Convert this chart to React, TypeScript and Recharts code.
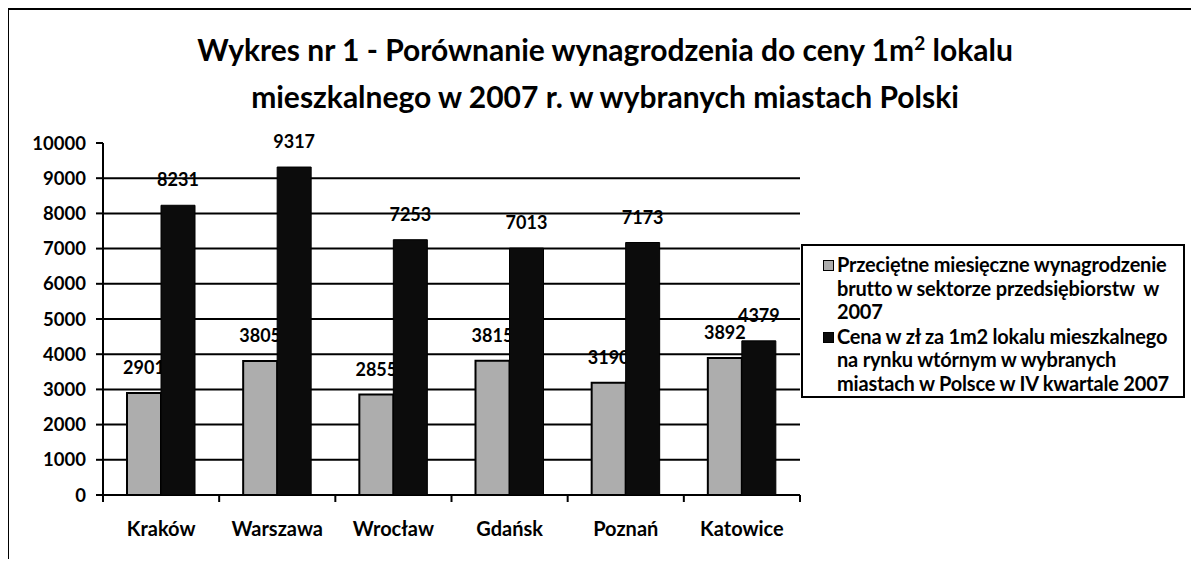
import { BarChart, Bar, XAxis, YAxis, CartesianGrid, LabelList } from "recharts";

const CITIES = ["Kraków", "Warszawa", "Wrocław", "Gdańsk", "Poznań", "Katowice"];
const SALARY = [2901, 3805, 2855, 3815, 3190, 3892];
const PRICE = [8231, 9317, 7253, 7013, 7173, 4379];
const Y_TICKS = [0, 1000, 2000, 3000, 4000, 5000, 6000, 7000, 8000, 9000, 10000];
const GRID_VALUES = [1000, 2000, 3000, 4000, 5000, 6000, 7000, 8000, 9000];
const SERIES_NAMES = [
  "Przeciętne miesięczne wynagrodzenie\nbrutto w sektorze przedsiębiorstw  w\n2007",
  "Cena w zł za 1m2 lokalu mieszkalnego\nna rynku wtórnym w wybranych\nmiastach w Polsce w IV kwartale 2007",
];

const rows = CITIES.map((city, i) => ({ city, salary: SALARY[i], price: PRICE[i] }));

const FONT = "Lato, 'Open Sans', sans-serif";
const X_TICK_SIZE = 7;
const X_TICK_MARGIN = 20;
const COLORS = ["#adadad", "#0c0c0c"];

function CityTick(props: any) {
  const { x, y, payload } = props;
  const axisY = y - X_TICK_SIZE - X_TICK_MARGIN;
  const half = payload.offset ?? 0;
  const isLast = payload.value === CITIES[CITIES.length - 1];
  return (
    <g>
      <line x1={x - half} x2={x - half} y1={axisY} y2={axisY + X_TICK_SIZE} stroke="#000" strokeWidth={2} />
      {isLast && (
        <line x1={x + half} x2={x + half} y1={axisY} y2={axisY + X_TICK_SIZE} stroke="#000" strokeWidth={2} />
      )}
      <text x={x} y={y} dy="0.71em" textAnchor="middle" fontFamily={FONT} fontWeight={700} fontSize={20} fill="#000">
        {payload.value}
      </text>
    </g>
  );
}

export default function App() {
  return (
    <div style={{ position: "relative", width: 1183, height: 551, background: "#fff", fontFamily: FONT }}>
      <div
        style={{
          position: "absolute",
          left: -2,
          top: -1,
          width: 1200,
          height: 570,
          borderLeft: "3px solid #000",
          borderTop: "3px solid #000",
        }}
      />
      <div
        style={{
          position: "absolute",
          left: 0,
          top: 18,
          width: 1194,
          textAlign: "center",
          fontWeight: 700,
          fontSize: 30,
          lineHeight: "47px",
          color: "#000",
        }}
      >
        Wykres nr 1 - Porównanie wynagrodzenia do ceny 1m<sup style={{ fontSize: 19, lineHeight: 0 }}>2</sup> lokalu
        <br />
        mieszkalnego w 2007 r. w wybranych miastach Polski
      </div>

      <BarChart
        width={1183}
        height={551}
        data={rows}
        margin={{ top: 135, right: 391, bottom: 24, left: 0 }}
        barCategoryGap={24}
        barGap={0}
        style={{ position: "absolute", left: 0, top: 0 }}
      >
        <CartesianGrid vertical={false} horizontalValues={GRID_VALUES} stroke="#000" strokeWidth={2} />
        <XAxis
          dataKey="city"
          axisLine={{ stroke: "#000", strokeWidth: 2 }}
          tickLine={false}
          tickSize={X_TICK_SIZE}
          tickMargin={X_TICK_MARGIN}
          height={40}
          interval={0}
          tick={<CityTick />}
        />
        <YAxis
          domain={[0, 10000]}
          ticks={Y_TICKS}
          interval={0}
          width={95}
          axisLine={{ stroke: "#000", strokeWidth: 2 }}
          tickLine={{ stroke: "#000", strokeWidth: 2 }}
          tickSize={7}
          tickMargin={10}
          tick={{ fill: "#000", fontSize: 18.5, fontWeight: 700, fontFamily: FONT }}
        />
        <Bar dataKey="salary" fill={COLORS[0]} stroke="#000" strokeWidth={2} isAnimationActive={false}>
          <LabelList dataKey="salary" position="top" offset={19} fill="#000" fontSize={18} fontWeight={700} fontFamily={FONT} />
        </Bar>
        <Bar dataKey="price" fill={COLORS[1]} stroke="#000" strokeWidth={1} isAnimationActive={false} zIndex={2100}>
          <LabelList dataKey="price" position="top" offset={19} fill="#000" fontSize={18} fontWeight={700} fontFamily={FONT} />
        </Bar>
      </BarChart>

      <div
        style={{
          position: "absolute",
          left: 793,
          top: 236,
          width: 380,
          height: 143,
          border: "2px solid #000",
          background: "#fff",
          padding: "7px 0 0 0",
          boxSizing: "content-box",
        }}
      >
        {SERIES_NAMES.map((name, i) => (
          <div key={name} style={{ position: "relative", paddingLeft: 34, whiteSpace: "pre-wrap", fontWeight: 700, fontSize: 20, lineHeight: "23.5px", color: "#000", marginBottom: 1, letterSpacing: -0.2 }}>
            <span
              style={{
                position: "absolute",
                left: 20,
                top: 7,
                width: 9,
                height: 9,
                background: COLORS[i],
                border: "1px solid #000",
              }}
            />
            {name}
          </div>
        ))}
      </div>
    </div>
  );
}
